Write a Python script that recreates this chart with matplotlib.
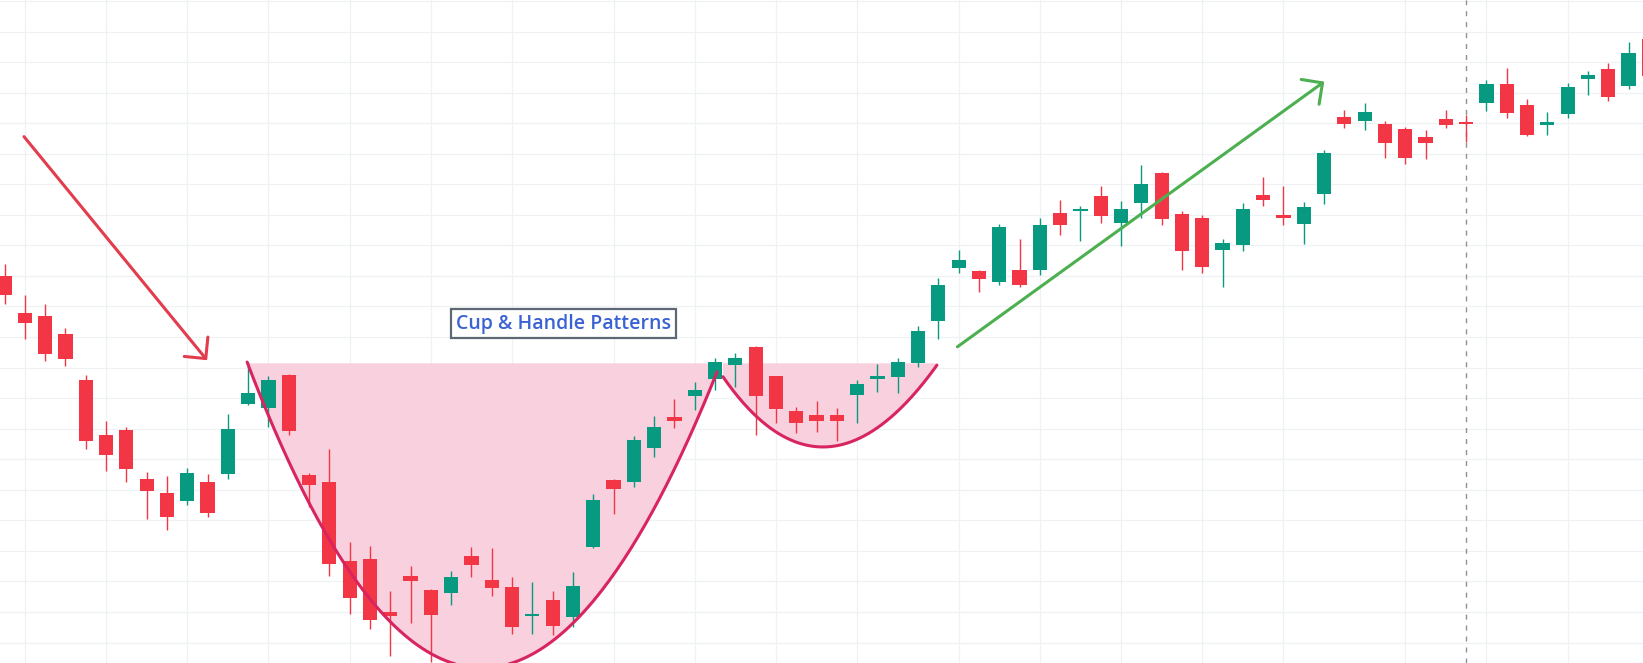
import numpy as np
import matplotlib.pyplot as plt

# daily candles
opens = [165.0, 158.9, 158.4, 155.5, 148.0, 139.0, 139.8, 131.8, 129.5, 128.2,
         131.3, 132.6, 144.0, 143.4, 148.8, 132.4, 131.3, 118.3, 118.7, 110.0,
         115.9, 113.6, 113.1, 119.2, 115.2, 114.1, 109.3, 112.0, 109.2, 120.6,
         131.6, 131.3, 136.8, 141.9, 145.4, 148.1, 150.4, 153.4, 148.6, 142.9,
         142.2, 142.2, 145.5, 148.1, 148.5, 150.8, 157.6, 166.3, 165.8, 164.0,
         166.0, 166.0, 175.3, 175.6, 178.1, 173.7, 176.9, 181.9, 175.1, 174.5,
         169.2, 170.1, 178.2, 175.0, 173.5, 178.4, 191.0, 190.4, 189.9, 189.1,
         187.7, 190.7, 190.2, 193.3, 196.4, 193.0, 189.7, 191.5, 197.2, 198.9,
         196.1, 203.8]
highs = [167.0, 161.9, 160.4, 156.5, 148.8, 141.3, 140.3, 132.9, 132.3, 133.6,
         132.6, 142.4, 150.9, 148.6, 149.0, 132.7, 136.7, 121.5, 120.8, 113.4,
         117.5, 113.7, 116.7, 120.6, 120.5, 115.7, 114.9, 113.4, 116.5, 129.3,
         131.7, 138.8, 142.1, 144.9, 147.6, 151.6, 152.4, 153.5, 148.7, 143.6,
         144.5, 143.4, 148.0, 150.6, 151.6, 156.8, 164.7, 169.2, 166.0, 173.5,
         171.0, 174.5, 177.4, 176.4, 179.7, 177.3, 183.2, 182.0, 175.6, 175.0,
         171.0, 176.9, 181.2, 179.7, 177.1, 185.6, 192.2, 193.3, 190.4, 189.4,
         188.9, 192.2, 191.3, 197.1, 199.0, 194.0, 191.8, 196.6, 198.5, 199.9,
         203.3, 204.4]
lows = [160.4, 154.7, 151.1, 150.3, 136.7, 133.1, 131.3, 125.2, 123.4, 127.5,
        125.5, 131.8, 143.9, 140.3, 139.0, 127.2, 115.9, 109.7, 107.2, 102.8,
        108.2, 101.8, 111.1, 115.7, 112.6, 106.4, 106.4, 106.2, 107.5, 120.5,
        126.0, 130.5, 135.4, 140.1, 143.1, 146.3, 146.8, 139.0, 140.9, 139.3,
        139.5, 138.0, 140.9, 146.0, 145.8, 150.1, 154.7, 165.5, 162.4, 163.5,
        163.2, 165.2, 171.7, 170.7, 173.7, 169.9, 174.5, 173.3, 166.0, 165.5,
        163.2, 169.1, 176.4, 173.3, 170.2, 176.8, 189.2, 188.9, 184.3, 183.3,
        184.1, 189.2, 186.9, 192.0, 190.9, 187.9, 188.1, 190.9, 194.6, 193.6,
        195.6, 197.1]
closes = [161.9, 157.3, 152.2, 151.4, 138.0, 135.7, 133.4, 129.8, 125.5, 132.7,
          126.2, 140.0, 145.8, 148.0, 139.6, 130.8, 117.9, 112.3, 108.7, 109.3,
          115.1, 109.5, 115.7, 117.7, 113.9, 107.5, 109.7, 107.7, 114.3, 128.3,
          130.1, 138.2, 140.3, 141.3, 146.3, 150.9, 151.6, 145.4, 143.2, 140.9,
          141.3, 141.3, 147.3, 148.6, 150.9, 156.0, 163.5, 167.6, 164.5, 173.0,
          163.5, 173.3, 173.3, 176.0, 174.8, 176.0, 180.1, 174.3, 169.1, 166.5,
          170.4, 176.0, 177.4, 174.5, 176.3, 185.1, 189.9, 191.8, 186.8, 184.3,
          186.8, 189.7, 189.9, 196.4, 191.7, 188.1, 190.2, 195.9, 197.9, 194.3,
          201.5, 197.7]

# chart furniture
grid_bars = [1, 5, 9, 13, 17, 21, 25, 30, 34, 38, 42, 47, 51, 55, 59, 63, 69, 73, 77]
grid_prices = list(range(105, 211, 5))
session_bar = 72

# drawings (bar index, price)
down_arrow = [(0.96, 187.8), (9.98, 151.2)]
up_arrow = [(46.94, 153.4), (65.01, 196.8)]
cup_ctrl = [(11.95, 150.9), (23.33, 51.6), (35.10, 149.3)]
handle_ctrl = [(35.39, 148.5), (40.37, 124.6), (45.93, 150.4)]
rim_price = 150.7
label_pos = (27.54, 157.2)
label_text = 'Cup & Handle Patterns'

GREEN = '#089981'
RED = '#f23645'

fig = plt.figure(figsize=(16.43, 6.63), dpi=100)
ax = fig.add_axes([0, 0, 1, 1])
ax.set_xlim(-0.222, 80.71)
ax.set_ylim(101.65, 210.16)
ax.axis('off')

for p in grid_prices:
    ax.axhline(p, color='#eff1f5', lw=0.9, zorder=0)
for b in grid_bars:
    ax.axvline(b, color='#eff1f5', lw=0.9, zorder=0)
ax.axvline(session_bar, color='#8f9197', lw=1.0, ls=(0, (3.6, 4.3)), zorder=1)


def bezier(ctrl, n=200):
    t = np.linspace(0, 1, n)[:, None]
    p = np.array(ctrl)
    pts = (1 - t) ** 2 * p[0] + 2 * t * (1 - t) * p[1] + t ** 2 * p[2]
    return pts[:, 0], pts[:, 1]


for ctrl in (cup_ctrl, handle_ctrl):
    cx, cy = bezier(ctrl)
    ax.fill(np.r_[cx, ctrl[2][0], ctrl[0][0]], np.r_[cy, rim_price, rim_price],
            color='#f9d1de', lw=0, zorder=1)

# candles
idx = np.arange(len(opens))
o = np.array(opens)
c = np.array(closes)
cols = [GREEN if cc >= oo else RED for oo, cc in zip(o, c)]
ax.vlines(idx, lows, highs, colors=cols, lw=1.0, zorder=2)
ax.bar(idx, np.abs(c - o), bottom=np.minimum(o, c), width=0.7, color=cols, lw=0, zorder=3)

for ctrl in (cup_ctrl, handle_ctrl):
    cx, cy = bezier(ctrl)
    ax.plot(cx, cy, color='#d8245f', lw=2.2, solid_capstyle='round', zorder=4)

for pts, col in ((down_arrow, '#e23c4d'), (up_arrow, '#4caf50')):
    ax.annotate('', xy=pts[1], xytext=pts[0],
                arrowprops=dict(arrowstyle='->,head_length=1,head_width=1', mutation_scale=11,
                                color=col, lw=2.2, shrinkA=0, shrinkB=0,
                                joinstyle='round', capstyle='round'), zorder=5)

ax.text(label_pos[0], label_pos[1], label_text, ha='center', va='center',
        fontsize=14, color='#3b62d4', family=['Open Sans', 'DejaVu Sans'], weight='semibold',
        bbox=dict(boxstyle='square,pad=0.25', fc='white', ec='#5d6874', lw=1.6), zorder=6)

fig.savefig('out.png', dpi=100)
